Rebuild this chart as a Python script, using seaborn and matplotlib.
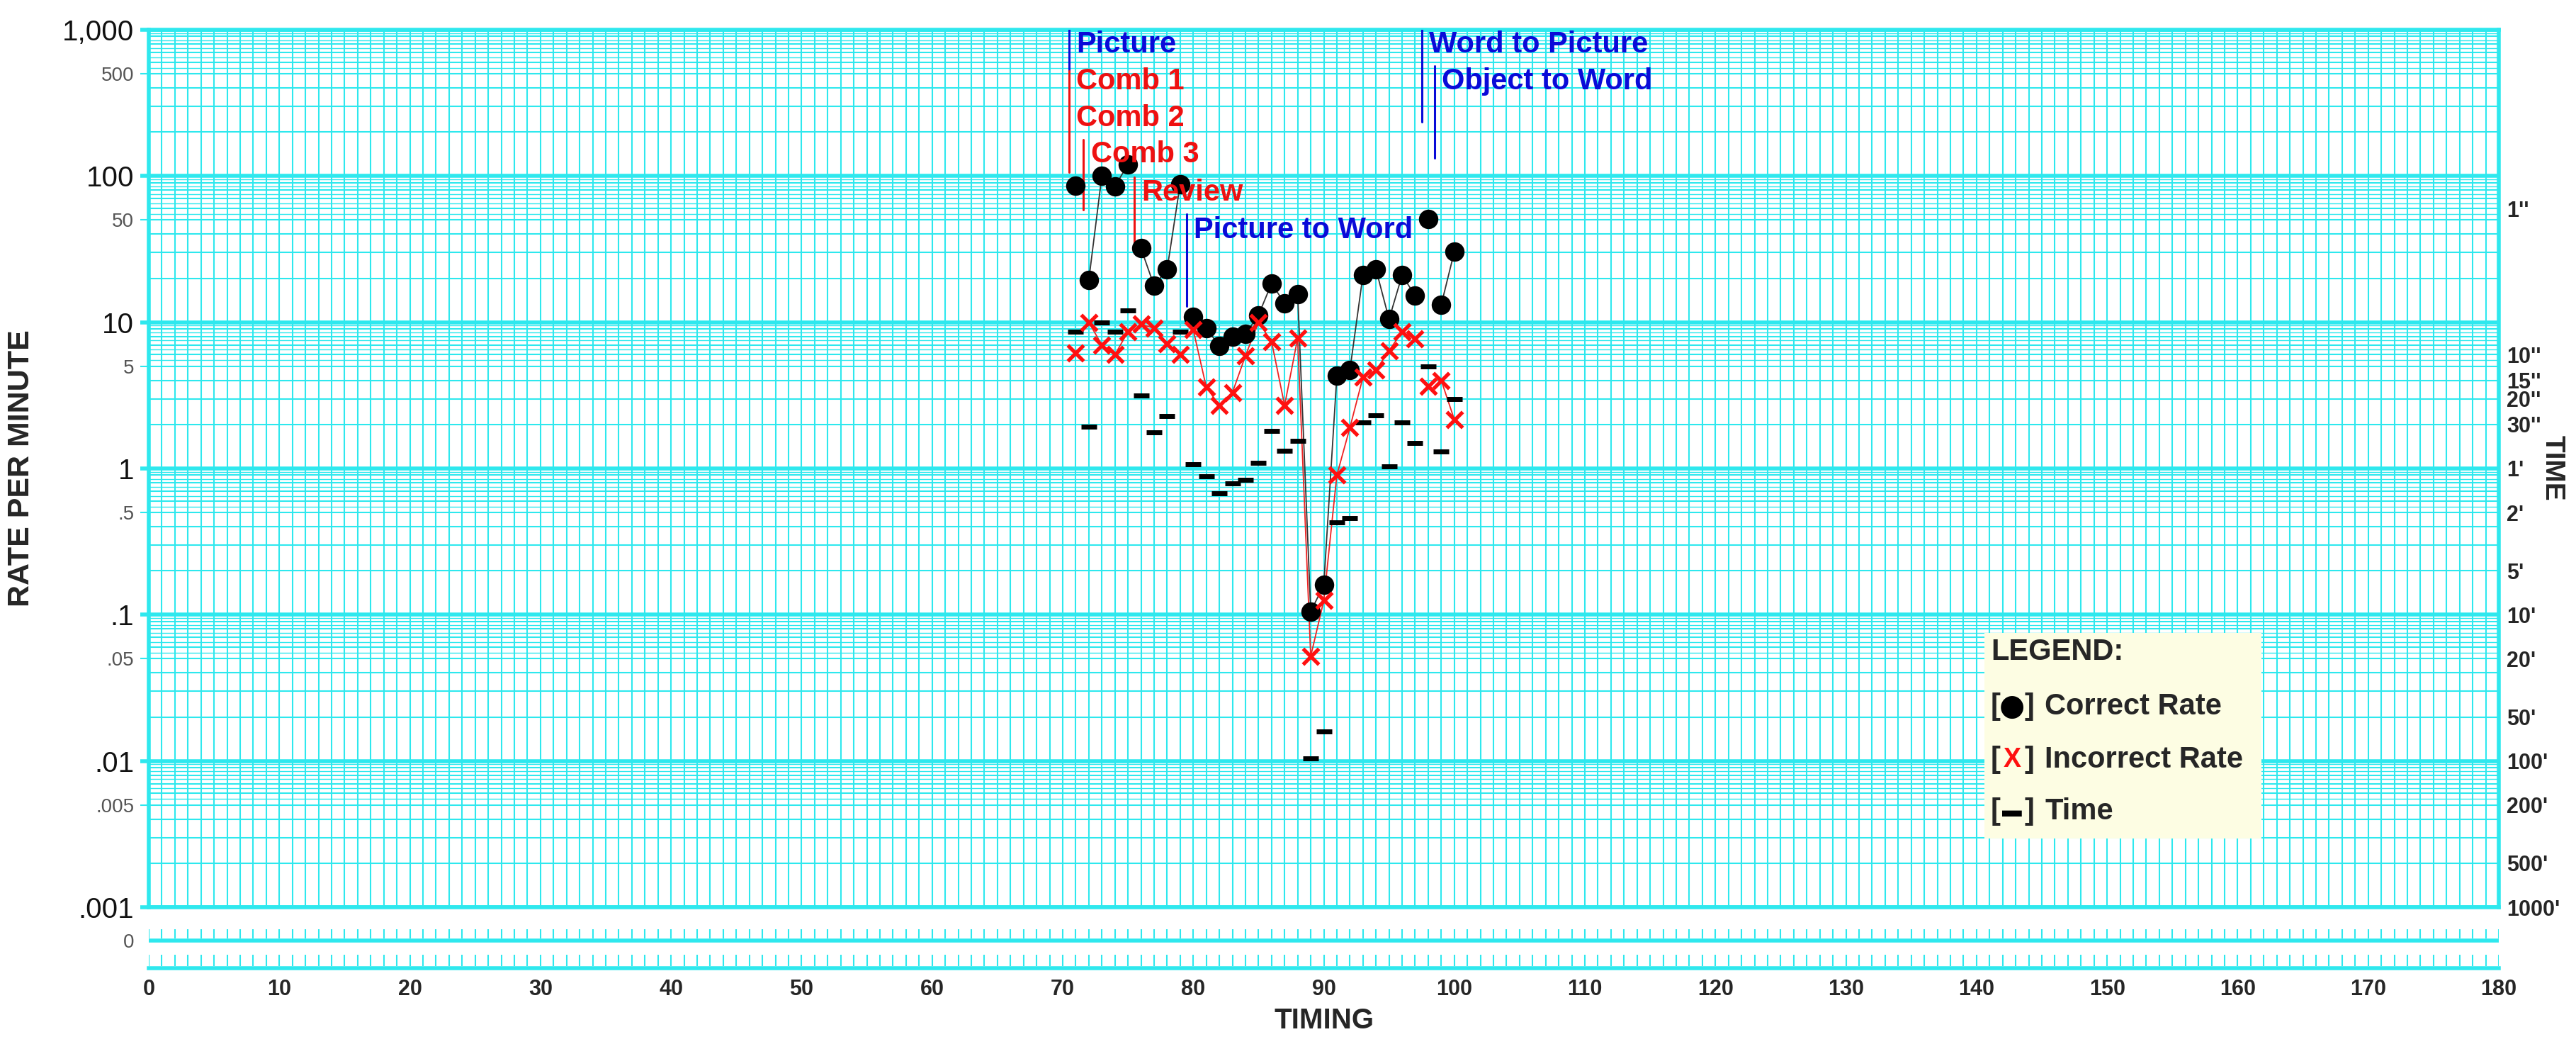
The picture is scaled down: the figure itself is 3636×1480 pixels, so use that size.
import matplotlib
matplotlib.use('Agg')

import matplotlib.pyplot as plt
import numpy as np
import pandas as pd
import seaborn as sns

# ---- data ----
days = list(range(71, 101))
correct_rate = [86, 19.4, 100, 85, 120, 32, 17.8, 23, 88, 10.9,
                9.1, 6.9, 8.0, 8.3, 11.2, 18.4, 13.5, 15.6, 0.105, 0.16,
                4.3, 4.7, 21, 23, 10.5, 21, 15.2, 51, 13.2, 30.4]
incorrect_rate = [6.2, 10, 7.0, 6.0, 8.6, 9.7, 9.1, 7.1, 6.0, 8.9,
                  3.6, 2.7, 3.3, 5.9, 10, 7.4, 2.7, 7.8, 0.052, 0.125,
                  0.9, 1.9, 4.2, 4.7, 6.4, 8.6, 7.7, 3.65, 4.0, 2.16]
time_rate = [8.6, 1.93, 10, 8.6, 12, 3.15, 1.77, 2.28, 8.6, 1.07,
             0.88, 0.68, 0.79, 0.84, 1.09, 1.8, 1.32, 1.55, 0.0104, 0.016,
             0.43, 0.46, 2.07, 2.3, 1.03, 2.07, 1.49, 5.0, 1.3, 3.0]

# phase change lines: label, day, top, bottom, label height, colour
phase_labels = ['Picture', 'Comb 1', 'Comb 2', 'Comb 3', 'Review',
                'Picture to Word', 'Word to Picture', 'Object to Word']
phase_days = [70.5, 70.5, 70.5, 71.6, 75.5, 79.5, 97.5, 98.5]
phase_top = [1000, 524, 250, 177, 98, 55, 1000, 566]
phase_bottom = [524, 250, 106, 59, 32, 12.9, 234, 133]
phase_label_y = [791, 443, 248, 140, 76.8, 42.5, 791, 443]
phase_colors = ['#0a0ad8', '#ee1111', '#ee1111', '#ee1111', '#ee1111',
                '#0a0ad8', '#0a0ad8', '#0a0ad8']

# axis labels
rate_major = [1000, 100, 10, 1, 0.1, 0.01, 0.001]
rate_major_labels = ['1,000', '100', '10', '1', '.1', '.01', '.001']
rate_minor = [500, 50, 5, 0.5, 0.05, 0.005]
rate_minor_labels = ['500', '50', '5', '.5', '.05', '.005']
time_ticks = [60, 6, 4, 3, 2, 1, 0.5, 0.2, 0.1, 0.05, 0.02, 0.01, 0.005, 0.002, 0.001]
time_labels = ["1''", "10''", "15''", "20''", "30''", "1'", "2'", "5'", "10'",
               "20'", "50'", "100'", "200'", "500'", "1000'"]

sns.set_style("white")
plt.rcParams['font.family'] = ['Liberation Sans', 'DejaVu Sans']

CYAN = '#2ee8ee'
W, H = 3636, 1480
L, R, T, B = 210, 3527, 42, 1280

# lines break at every phase change
breaks = [71.5, 75.5, 79.5, 97.5, 98.5]
df = pd.DataFrame({'day': days, 'correct': correct_rate,
                   'incorrect': incorrect_rate, 'time': time_rate})
df['phase'] = np.searchsorted(breaks, df['day'])

fig = plt.figure(figsize=(W / 100, H / 100), dpi=100)
ax = fig.add_axes([L / W, 1 - B / H, (R - L) / W, (B - T) / H])
ax.set_yscale('log')
ax.set_xlim(0, 180)
ax.set_ylim(0.001, 1000)

# grid paper
decades = [10.0 ** k for k in range(-3, 4)]
minor_lines = [m * d for d in decades[:-1] for m in range(2, 10)]
half_lines = [m * d for d in decades[:-1] for m in (5.5, 6.5, 7.5, 8.5, 9.5)]
ax.vlines(np.arange(0, 181), 0.001, 1000, color=CYAN, lw=1.5, zorder=0)
ax.hlines(half_lines, 0, 180, color=CYAN, lw=1.0, zorder=0)
ax.hlines(minor_lines, 0, 180, color=CYAN, lw=1.5, zorder=0)
ax.hlines(decades, 0, 180, color=CYAN, lw=4, zorder=0)
for s in ax.spines.values():
    s.set_color(CYAN)
    s.set_linewidth(4)

ax.set_yticks(rate_major, labels=rate_major_labels)
ax.set_yticks(rate_minor, labels=rate_minor_labels, minor=True)
ax.tick_params(axis='y', which='major', length=9, width=4, color=CYAN,
               labelsize=29, pad=6, labelcolor='#111')
ax.tick_params(axis='y', which='minor', length=9, width=1.5, color=CYAN,
               labelsize=20, pad=6, labelcolor='#555')
ax.set_xticks([])

# data
sns.lineplot(data=df, x='day', y='correct', units='phase', estimator=None,
             color='#333333', lw=1.3, ax=ax, legend=False, zorder=3)
sns.lineplot(data=df, x='day', y='incorrect', units='phase', estimator=None,
             color='#ee2222', lw=1.3, ax=ax, legend=False, zorder=3)
sns.scatterplot(data=df, x='day', y='correct', marker='o', s=390,
                color='black', linewidth=0, ax=ax, zorder=4)
sns.scatterplot(data=df, x='day', y='time', marker='_', s=250,
                color='black', linewidth=5, ax=ax, zorder=4)
sns.scatterplot(data=df, x='day', y='incorrect', marker='x', s=260,
                color='#ff1010', linewidth=3.8, ax=ax, zorder=5)
ax.set_xlabel('')
ax.set_ylabel('')

# phase change lines and labels
for lab, d, y0, y1, ly, c in zip(phase_labels, phase_days, phase_top,
                                 phase_bottom, phase_label_y, phase_colors):
    ax.plot([d, d], [y0, y1], color=c, lw=2.2, zorder=3)
    ax.text(d + 0.55, ly, lab, color=c, fontsize=30, fontweight='bold',
            ha='left', va='center', zorder=6)

# legend box
ax.add_patch(plt.Rectangle((0.781, 0.078), 0.118, 0.235, transform=ax.transAxes,
                           facecolor='#fdfde3', edgecolor='none', zorder=6))
ax.text(0.7838, 0.291, 'LEGEND:', transform=ax.transAxes, fontsize=30,
        fontweight='bold', va='center', ha='left', zorder=7)
legend_rows = [('\u25cf', 'black', 30, 'Correct Rate', 0.2286),
               ('X', '#ff1010', 27, 'Incorrect Rate', 0.168),
               ('\u25ac', 'black', 20, 'Time', 0.109)]
for sym, col, fs, lab, yy in legend_rows:
    ax.text(0.7838, yy, '[', transform=ax.transAxes, fontsize=30,
            fontweight='bold', va='center', ha='left', zorder=7)
    ax.text(0.7929, yy, sym, transform=ax.transAxes, fontsize=fs,
            fontweight='bold', color=col, va='center', ha='center', zorder=7,
            family=['DejaVu Sans'] if sym == '\u25cf' else None)
    ax.text(0.8022, yy, ']', transform=ax.transAxes, fontsize=30,
            fontweight='bold', va='center', ha='right', zorder=7)
    ax.text(0.8068, yy, lab, transform=ax.transAxes, fontsize=30,
            fontweight='bold', va='center', ha='left', zorder=7)

# right-hand time scale
ax2 = ax.twinx()
ax2.set_yscale('log')
ax2.set_ylim(0.001, 1000)
ax2.set_yticks(time_ticks, labels=time_labels)
ax2.yaxis.set_minor_locator(matplotlib.ticker.NullLocator())
ax2.tick_params(axis='y', length=0, pad=8, labelsize=22)
for t in ax2.get_yticklabels():
    t.set_fontweight('bold')
for s in ax2.spines.values():
    s.set_visible(False)

# zero row and timing axis
sax = fig.add_axes([L / W, 1 - 1366 / H, (R - L) / W, 86 / H])
sax.set_xlim(0, 180)
sax.set_ylim(0, 1)
for k in ['left', 'right', 'top']:
    sax.spines[k].set_visible(False)
sax.spines['bottom'].set_color(CYAN)
sax.spines['bottom'].set_linewidth(4)
sax.hlines(0.45, 0, 180, color=CYAN, lw=4)
sax.vlines(np.arange(0, 181), 0.49, 0.64, color=CYAN, lw=1.5)
sax.vlines(np.arange(0, 181), 0.04, 0.22, color=CYAN, lw=1.5)
sax.set_xticks(range(0, 181, 10))
sax.tick_params(axis='x', direction='out', length=7, width=4, color=CYAN,
                labelsize=22, pad=4)
for t in sax.get_xticklabels():
    t.set_fontweight('bold')
sax.set_yticks([0.45], labels=['0'])
sax.tick_params(axis='y', length=0, pad=15, labelsize=20, labelcolor='#555')
sax.patch.set_alpha(0)

fig.text(1869 / W, 1 - 1440 / H, 'TIMING', fontsize=29, fontweight='bold',
         ha='center', va='center')
fig.text(30 / W, 1 - 661 / H, 'RATE PER MINUTE', rotation=90, fontsize=31,
         fontweight='bold', ha='center', va='center')
fig.text(3603 / W, 1 - 660 / H, 'TIME', rotation=270, fontsize=28,
         fontweight='bold', ha='center', va='center')

fig.savefig('out.png', dpi=100, facecolor='white')
